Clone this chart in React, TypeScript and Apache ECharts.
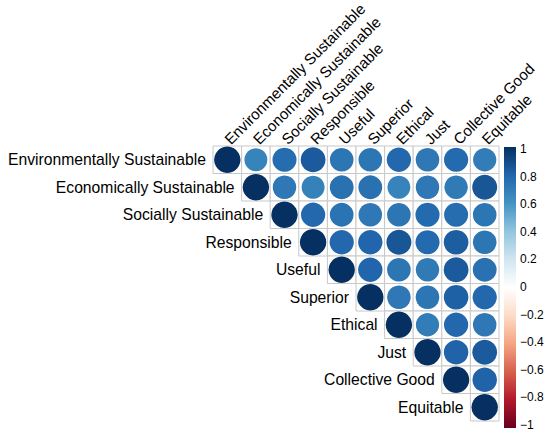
import { useEffect, useRef } from 'react';
import * as echarts from 'echarts';

const variables = [
  'Environmentally Sustainable',
  'Economically Sustainable',
  'Socially Sustainable',
  'Responsible',
  'Useful',
  'Superior',
  'Ethical',
  'Just',
  'Collective Good',
  'Equitable',
];

// upper triangle of the correlation matrix, one row each, starting at the diagonal
const rowEnvironmental = [1, 0.67, 0.77, 0.84, 0.73, 0.73, 0.79, 0.72, 0.78, 0.7];
const rowEconomic = [1, 0.72, 0.68, 0.75, 0.75, 0.67, 0.72, 0.71, 0.86];
const rowSocial = [1, 0.79, 0.74, 0.72, 0.73, 0.78, 0.77, 0.73];
const rowResponsible = [1, 0.79, 0.8, 0.86, 0.78, 0.83, 0.73];
const rowUseful = [1, 0.8, 0.73, 0.71, 0.84, 0.75];
const rowSuperior = [1, 0.72, 0.73, 0.82, 0.79];
const rowEthical = [1, 0.7, 0.79, 0.72];
const rowJust = [1, 0.81, 0.84];
const rowCollective = [1, 0.81];
const rowEquitable = [1];

const upperRows = [
  rowEnvironmental, rowEconomic, rowSocial, rowResponsible, rowUseful,
  rowSuperior, rowEthical, rowJust, rowCollective, rowEquitable,
];

// RdBu, from -1 to 1
const palette = ['#67001F', '#B2182B', '#D6604D', '#F4A582', '#FDDBC7', '#FFFFFF',
  '#D1E5F0', '#92C5DE', '#4393C3', '#2166AC', '#053061'];

const fontFamily = "'Liberation Sans', Arial, sans-serif";

function hexToRgb(h: string) {
  return [parseInt(h.slice(1, 3), 16), parseInt(h.slice(3, 5), 16), parseInt(h.slice(5, 7), 16)];
}

function corrColor(v: number) {
  const t = ((v + 1) / 2) * (palette.length - 1);
  const i = Math.min(Math.floor(t), palette.length - 2);
  const f = t - i;
  const a = hexToRgb(palette[i]);
  const b = hexToRgb(palette[i + 1]);
  const c = a.map((x, k) => Math.round(x + (b[k] - x) * f));
  return `rgb(${c[0]},${c[1]},${c[2]})`;
}

export default function App() {
  const chartRef = useRef<HTMLDivElement>(null);

  useEffect(() => {
    if (!chartRef.current) return;
    const chart = echarts.init(chartRef.current, null, { renderer: 'svg' });

    const cells: number[][] = [];
    upperRows.forEach((vals, row) => {
      vals.forEach((v, k) => cells.push([row + k, row, v]));
    });

    const option: echarts.EChartsOption = {
      animation: false,
      backgroundColor: '#fff',
      grid: [
        { left: 213, top: 146, width: 286, height: 275 },
        { left: 504, top: 149, width: 12, height: 276 },
      ],
      xAxis: [
        { type: 'category', gridIndex: 0, data: variables, show: false },
        { type: 'value', gridIndex: 1, min: 0, max: 1, show: false },
      ],
      yAxis: [
        { type: 'category', gridIndex: 0, data: variables, inverse: true, show: false },
        {
          type: 'value',
          gridIndex: 1,
          min: -1,
          max: 1,
          interval: 0.2,
          position: 'right',
          axisLine: { show: false },
          axisTick: { show: true, length: 3, lineStyle: { color: '#333' } },
          splitLine: { show: false },
          axisLabel: {
            margin: 4,
            fontSize: 12,
            fontFamily,
            color: '#000',
            formatter: (v: number) => String(Math.round(v * 10) / 10).replace('-', '\u2212'),
          },
        },
      ],
      series: [
        {
          type: 'custom',
          xAxisIndex: 0,
          yAxisIndex: 0,
          data: cells,
          renderItem: (params: any, api: any) => {
            const col = api.value(0);
            const row = api.value(1);
            const r = api.value(2);
            const c = api.coord([col, row]);
            const s = api.size([1, 1]);
            const w = s[0];
            const h = s[1];
            const rad = 0.48 * Math.min(w, h) * Math.pow(Math.abs(r), 0.35);
            return {
              type: 'group',
              children: [
                {
                  type: 'rect',
                  shape: { x: c[0] - w / 2, y: c[1] - h / 2, width: w, height: h },
                  style: { fill: '#fff', stroke: '#c8c8c8', lineWidth: 1 },
                },
                {
                  type: 'circle',
                  shape: { cx: c[0], cy: c[1], r: rad },
                  style: { fill: corrColor(r) },
                },
              ],
            };
          },
        },
        {
          type: 'custom',
          xAxisIndex: 0,
          yAxisIndex: 0,
          data: variables.map((_, i) => [i, i]),
          renderItem: (params: any, api: any) => {
            const i = api.value(0);
            const c = api.coord([i, i]);
            const s = api.size([1, 1]);
            const top = api.coord([i, 0])[1] - s[1] / 2;
            return {
              type: 'group',
              children: [
                {
                  type: 'text',
                  x: c[0] - s[0] / 2 - 7,
                  y: c[1],
                  style: {
                    text: variables[i], align: 'right', verticalAlign: 'middle',
                    fontSize: 15.7, fontFamily, fill: '#000',
                  },
                },
                {
                  type: 'text',
                  x: c[0] + 5,
                  y: top + 1,
                  rotation: Math.PI / 4,
                  style: {
                    text: variables[i], align: 'left', verticalAlign: 'bottom',
                    fontSize: 15.2, fontFamily, fill: '#000',
                  },
                },
              ],
            };
          },
        },
        {
          type: 'custom',
          xAxisIndex: 1,
          yAxisIndex: 1,
          data: [[0, 0]],
          renderItem: (params: any, api: any) => {
            const top = api.coord([0, 1]);
            const bottom = api.coord([0, -1]);
            const right = api.coord([1, 0])[0];
            const stops = palette.slice().reverse().map((color, k) => ({ offset: k / (palette.length - 1), color }));
            return {
              type: 'rect',
              shape: { x: top[0], y: top[1] - 2, width: right - top[0], height: bottom[1] - top[1] + 5 },
              style: { fill: new echarts.graphic.LinearGradient(0, 0, 0, 1, stops) },
            };
          },
        },
      ],
    };

    chart.setOption(option);
    return () => chart.dispose();
  }, []);

  return (
    <div
      ref={chartRef}
      style={{ position: 'fixed', left: 0, top: 0, width: 550, height: 435, background: '#fff' }}
    />
  );
}
